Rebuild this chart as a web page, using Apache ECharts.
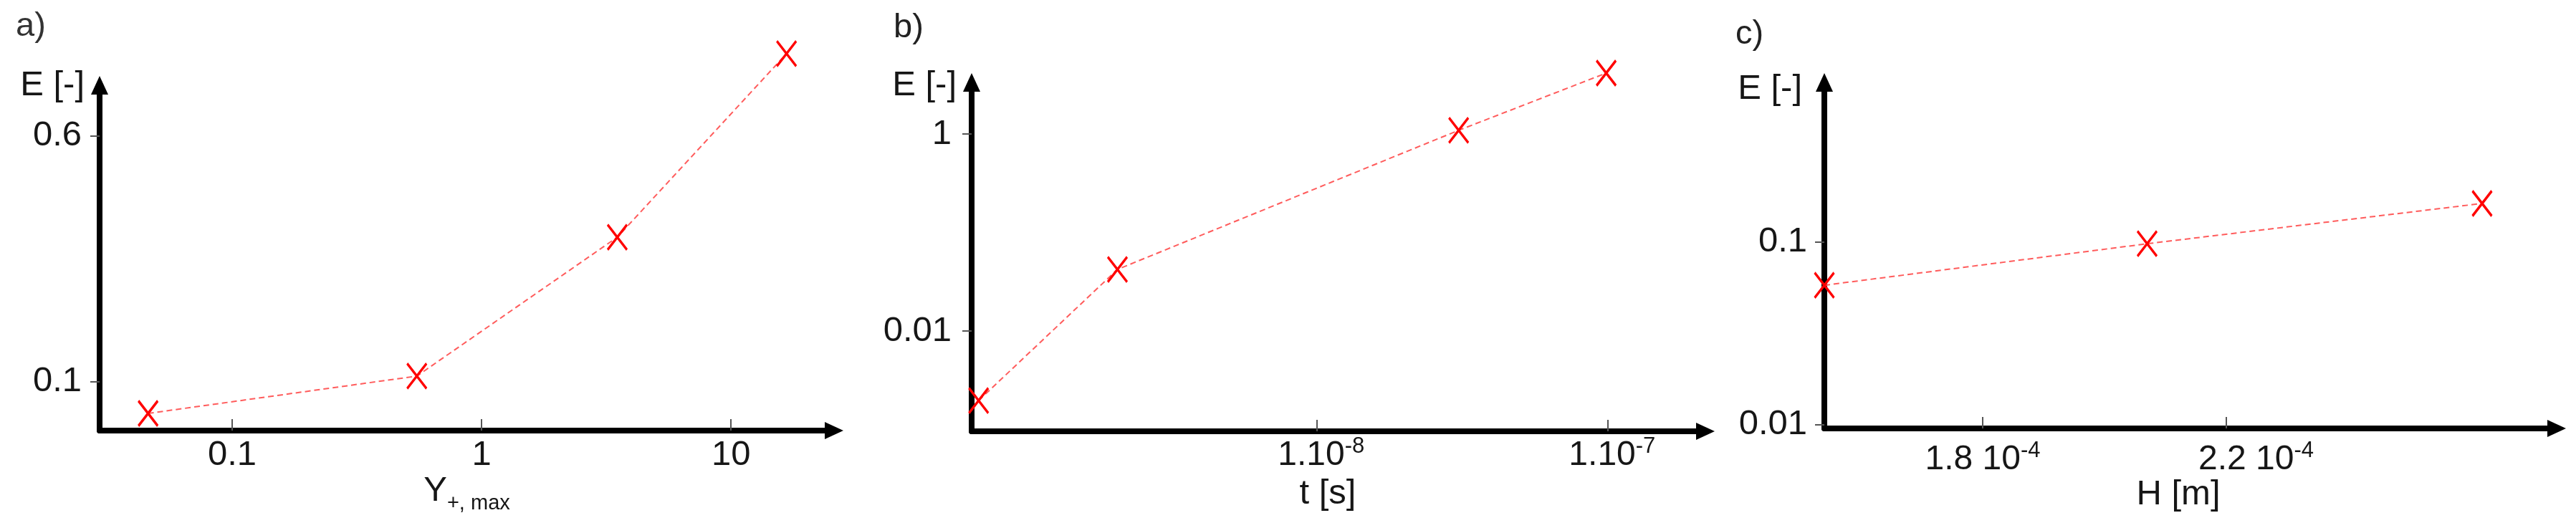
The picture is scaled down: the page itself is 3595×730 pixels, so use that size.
<!DOCTYPE html>
<html>
<head>
<meta charset="utf-8">
<title>E over Y+,max, t and H</title>
<script src="https://cdn.jsdelivr.net/npm/echarts@6.0.0/dist/echarts.min.js"></script>
<style>
html, body { margin: 0; padding: 0; background: #fff; }
#main { width: 3595px; height: 730px; }
</style>
</head>
<body>
<div id="main"></div>
<script>
// a) E against Y+,max (log x, linear y)
var yPlusMax = [0.046, 0.55, 3.5, 16.7];
var errA = [0.035, 0.111, 0.394, 0.768];
var ticksAx = [0.1, 1, 10];
var ticksAy = [0.1, 0.6];

// b) E against t (log x, log y)
var timeStep = [6.9e-10, 2.07e-9, 3.08e-8, 9.9e-8];
var errB = [0.00197, 0.0422, 1.09, 4.15];
var ticksBx = [1e-8, 1e-7];
var ticksBy = [0.01, 1];

// c) E against H (linear x, log y)
var heightH = [1.54e-4, 2.07e-4, 2.62e-4];
var errC = [0.058, 0.098, 0.163];
var ticksCx = [1.8e-4, 2.2e-4];
var ticksCy = [0.01, 0.1];

var font = '"Liberation Sans", Arial, Helvetica, sans-serif';
var ink = '#161616';

function lg(v) { return Math.log10(v); }

// tick value back from axis value (log axes are drawn in log10 space)
function findTick(list, v, isLog) {
    for (var i = 0; i < list.length; i++) {
        var t = isLog ? lg(list[i]) : list[i];
        if (Math.abs(t - v) < 1e-9) return list[i];
    }
    return null;
}

function axisBase(gridIndex, tickInside, tickLen) {
    return {
        type: 'value',
        gridIndex: gridIndex,
        nameMoveOverlap: false,
        axisLine: {
            show: true,
            onZero: false,
            symbol: ['none', 'triangle'],
            symbolSize: [24, 26],
            lineStyle: { color: '#000', width: 8 }
        },
        axisTick: {
            show: true,
            inside: tickInside,
            length: tickLen,
            lineStyle: { color: '#555', width: 2 }
        },
        splitLine: { show: false },
        axisLabel: { color: ink, fontFamily: font, fontSize: 49 }
    };
}

function yName(padRight) {
    return {
        color: ink, fontFamily: font, fontSize: 49,
        align: 'right', verticalAlign: 'middle',
        padding: [0, padRight, 0, 0]
    };
}

// rich styles for "mantissa 10^exp" tick labels
function powRich(padLeft) {
    return {
        p: { fontSize: 48, padding: [4, 0, 0, padLeft], verticalAlign: 'top', color: ink, fontFamily: font },
        q: { fontSize: 48, padding: [4, 0, 0, padLeft + 83], verticalAlign: 'top', color: ink, fontFamily: font },
        s: { fontSize: 31, verticalAlign: 'top', color: ink, fontFamily: font }
    };
}

function pairs(xs, ys, fx, fy) {
    return xs.map(function (x, i) { return [fx(x), fy(ys[i])]; });
}
function same(v) { return v; }

var seriesStyle = {
    type: 'line',
    symbol: 'path://M0,0L24,34M24,0L0,34',
    symbolSize: [27, 35],
    clip: false,
    itemStyle: { color: 'rgba(0,0,0,0)', borderColor: '#ff0000', borderWidth: 3.5 },
    lineStyle: { color: '#ff5c5c', width: 2, type: [8, 5] },
    emphasis: { disabled: true },
    z: 3
};

// ---- panel a ----
var xA = axisBase(0, true, 16);
xA.min = lg(0.0294); xA.max = lg(25.9);
xA.axisTick.customValues = ticksAx.map(lg);
xA.axisLabel.customValues = ticksAx.map(lg);
xA.axisLabel.margin = 10;
xA.axisLabel.formatter = function (v) {
    var t = findTick(ticksAx, v, true);
    return t === null ? '' : String(t);
};
xA.name = '{m|Y}{s|+, max}';
xA.nameLocation = 'middle';
xA.nameGap = 88;
xA.nameTextStyle = {
    color: ink, fontFamily: font, verticalAlign: 'middle',
    rich: {
        m: { fontSize: 49, verticalAlign: 'top', color: ink, fontFamily: font },
        s: { fontSize: 29, verticalAlign: 'top', padding: [27, 0, 0, 0], color: ink, fontFamily: font }
    }
};

var yA = axisBase(0, false, 13);
yA.min = 0; yA.max = 0.7036;
yA.axisTick.customValues = ticksAy;
yA.axisLabel.customValues = ticksAy;
yA.axisLabel.margin = 25;
yA.axisLabel.formatter = function (v) {
    var t = findTick(ticksAy, v, false);
    return t === null ? '' : String(t);
};
yA.name = 'E [-]';
yA.nameLocation = 'end';
yA.nameGap = 0;
yA.nameTextStyle = yName(21);

// ---- panel b ----
var xB = axisBase(1, true, 16);
xB.min = lg(6.53e-10); xB.max = lg(2.17e-7);
xB.axisTick.customValues = ticksBx.map(lg);
xB.axisLabel.customValues = ticksBx.map(lg);
xB.axisLabel.margin = 6;
xB.axisLabel.formatter = function (v) {
    var t = findTick(ticksBx, v, true);
    if (t === null) return '';
    var e = Math.round(lg(t));
    return '{p|' + (t / Math.pow(10, e)).toFixed(0) + '.10}{s|' + e + '}';
};
xB.axisLabel.rich = powRich(13);
xB.name = 't [s]';
xB.nameLocation = 'middle';
xB.nameGap = 87;
xB.nameTextStyle = { color: ink, fontFamily: font, fontSize: 49, verticalAlign: 'middle', padding: [0, 30, 0, 0] };

var yB = axisBase(1, false, 13);
yB.min = lg(9.6e-4); yB.max = lg(3.34);
yB.axisTick.customValues = ticksBy.map(lg);
yB.axisLabel.customValues = ticksBy.map(lg);
yB.axisLabel.margin = 28;
yB.axisLabel.formatter = function (v) {
    var t = findTick(ticksBy, v, true);
    return t === null ? '' : String(t);
};
yB.name = 'E [-]';
yB.nameLocation = 'end';
yB.nameGap = -4;
yB.nameTextStyle = yName(21);

// ---- panel c ----
var xC = axisBase(2, true, 16);
xC.min = 1.54e-4; xC.max = 2.7424e-4;
xC.axisTick.customValues = ticksCx;
xC.axisLabel.customValues = ticksCx;
xC.axisLabel.margin = 16;
xC.axisLabel.formatter = function (v) {
    var t = findTick(ticksCx, v, false);
    if (t === null) return '';
    var e = Math.floor(lg(t));
    var key = t > 2e-4 ? 'q' : 'p';
    return '{' + key + '|' + (t / Math.pow(10, e)).toFixed(1) + ' 10}{s|' + e + '}';
};
xC.axisLabel.rich = powRich(0);
xC.name = 'H [m]';
xC.nameLocation = 'middle';
xC.nameGap = 92;
xC.nameTextStyle = { color: ink, fontFamily: font, fontSize: 49, verticalAlign: 'middle', padding: [0, 34, 0, 0] };

var yC = axisBase(2, false, 13);
yC.min = lg(0.00951); yC.max = lg(0.752);
yC.axisTick.customValues = ticksCy.map(lg);
yC.axisLabel.customValues = ticksCy.map(lg);
yC.axisLabel.margin = 24;
yC.axisLabel.formatter = function (v) {
    var t = findTick(ticksCy, v, true);
    return t === null ? '' : String(t);
};
yC.name = 'E [-]';
yC.nameLocation = 'end';
yC.nameGap = -9;
yC.nameTextStyle = yName(31);

var chart = echarts.init(document.getElementById('main'));

var option = {
    animation: false,
    backgroundColor: '#fff',
    title: [
        { text: 'a)', left: 22, top: 14, padding: 0, textStyle: { fontFamily: font, fontSize: 47, fontWeight: 'normal', color: '#333' } },
        { text: 'b)', left: 1247, top: 16, padding: 0, textStyle: { fontFamily: font, fontSize: 47, fontWeight: 'normal', color: '#222' } },
        { text: 'c)', left: 2422, top: 25, padding: 0, textStyle: { fontFamily: font, fontSize: 47, fontWeight: 'normal', color: '#222' } }
    ],
    grid: [
        { left: 139, top: 119, width: 1025, height: 482, containLabel: false, outerBoundsMode: 'none' },
        { left: 1356, top: 115, width: 1024, height: 487, containLabel: false, outerBoundsMode: 'none' },
        { left: 2546, top: 115, width: 1022, height: 483, containLabel: false, outerBoundsMode: 'none' }
    ],
    xAxis: [xA, xB, xC],
    yAxis: [yA, yB, yC],
    series: [
        Object.assign({}, seriesStyle, { xAxisIndex: 0, yAxisIndex: 0, data: pairs(yPlusMax, errA, lg, same) }),
        Object.assign({}, seriesStyle, { xAxisIndex: 1, yAxisIndex: 1, data: pairs(timeStep, errB, lg, lg) }),
        Object.assign({}, seriesStyle, { xAxisIndex: 2, yAxisIndex: 2, data: pairs(heightH, errC, same, lg) })
    ]
};

chart.setOption(option);
</script>
</body>
</html>
